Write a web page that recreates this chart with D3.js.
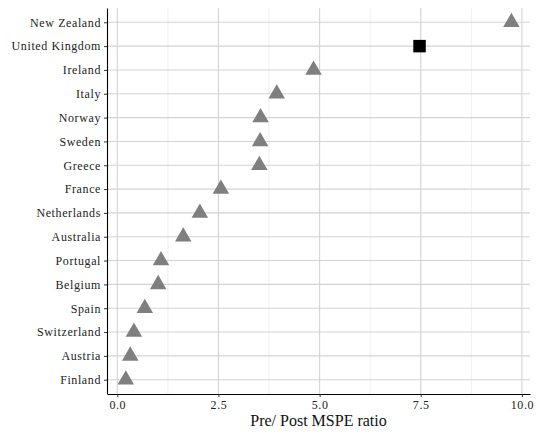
<!DOCTYPE html>
<html>
<head>
<meta charset="utf-8">
<script src="https://cdn.jsdelivr.net/npm/d3@7"></script>
<style>
  body { margin: 0; background: #fff; }
  text { font-family: "Liberation Serif", "DejaVu Serif", serif; }
</style>
</head>
<body>
<div id="chart"></div>
<script>
// countries, top to bottom
const countries = ['New Zealand', 'United Kingdom', 'Ireland', 'Italy', 'Norway', 'Sweden',
  'Greece', 'France', 'Netherlands', 'Australia', 'Portugal', 'Belgium', 'Spain',
  'Switzerland', 'Austria', 'Finland'];
const ratios = [9.74, 7.47, 4.85, 3.94, 3.54, 3.53, 3.51, 2.56, 2.04, 1.63, 1.08, 1.01, 0.68, 0.41, 0.32, 0.21];
const treated = 'United Kingdom';
const xTicks = [0, 2.5, 5, 7.5, 10];
const xMinor = [1.25, 3.75, 6.25, 8.75];

const W = 540, H = 436;
const margin = {top: 8, right: 10, bottom: 42, left: 107};
const width = W - margin.left - margin.right;
const height = H - margin.top - margin.bottom;

const data = countries.map((c, i) => ({country: c, value: ratios[i]}));

const svg = d3.select('#chart').append('svg')
  .attr('width', W)
  .attr('height', H);

const g = svg.append('g')
  .attr('transform', 'translate(' + margin.left + ',' + margin.top + ')');

const x = d3.scaleLinear()
  .domain([-0.255, 10.2])
  .range([0, width]);

const y = d3.scalePoint()
  .domain(countries)
  .range([0, height])
  .padding(0.6);

// grid
g.append('g').selectAll('line.minor')
  .data(xMinor)
  .join('line')
  .attr('x1', d => x(d)).attr('x2', d => x(d))
  .attr('y1', 0).attr('y2', height)
  .attr('stroke', '#ebebeb').attr('stroke-width', 0.8);

g.append('g').selectAll('line.major')
  .data(xTicks)
  .join('line')
  .attr('x1', d => x(d)).attr('x2', d => x(d))
  .attr('y1', 0).attr('y2', height)
  .attr('stroke', '#d3d3d3').attr('stroke-width', 1.1);

g.append('g').selectAll('line.row')
  .data(countries)
  .join('line')
  .attr('x1', 0).attr('x2', width)
  .attr('y1', d => y(d)).attr('y2', d => y(d))
  .attr('stroke', '#d3d3d3').attr('stroke-width', 1.1);

// axes
const xAxis = g.append('g')
  .attr('transform', 'translate(0,' + height + ')')
  .call(d3.axisBottom(x).tickValues(xTicks).tickFormat(d3.format('.1f'))
    .tickSize(3).tickSizeOuter(0).tickPadding(3));

const yAxis = g.append('g')
  .call(d3.axisLeft(y).tickSize(3).tickSizeOuter(0).tickPadding(3));

[xAxis, yAxis].forEach(a => {
  a.select('.domain').attr('stroke', '#000').attr('stroke-width', 1.1);
  a.selectAll('.tick line').attr('stroke', '#333');
  a.selectAll('.tick text')
    .attr('fill', '#222')
    .style('font-size', '12px')
    .style('letter-spacing', '0.6px')
    .style('font-family', '"Liberation Serif", serif');
});

// points
g.selectAll('path.pt')
  .data(data)
  .join('path')
  .attr('transform', d => 'translate(' + x(d.value) + ',' + y(d.country) + ')')
  .attr('d', d => d.country === treated
    ? d3.symbol().type(d3.symbolSquare).size(156)()
    : d3.symbol().type(d3.symbolTriangle).size(118)())
  .attr('fill', d => d.country === treated ? '#000' : '#7f7f7f');

// axis title
svg.append('text')
  .attr('x', margin.left + width / 2)
  .attr('y', 426)
  .attr('text-anchor', 'middle')
  .style('font-size', '16px')
  .attr('fill', '#111')
  .text('Pre/ Post MSPE ratio');
</script>
</body>
</html>
